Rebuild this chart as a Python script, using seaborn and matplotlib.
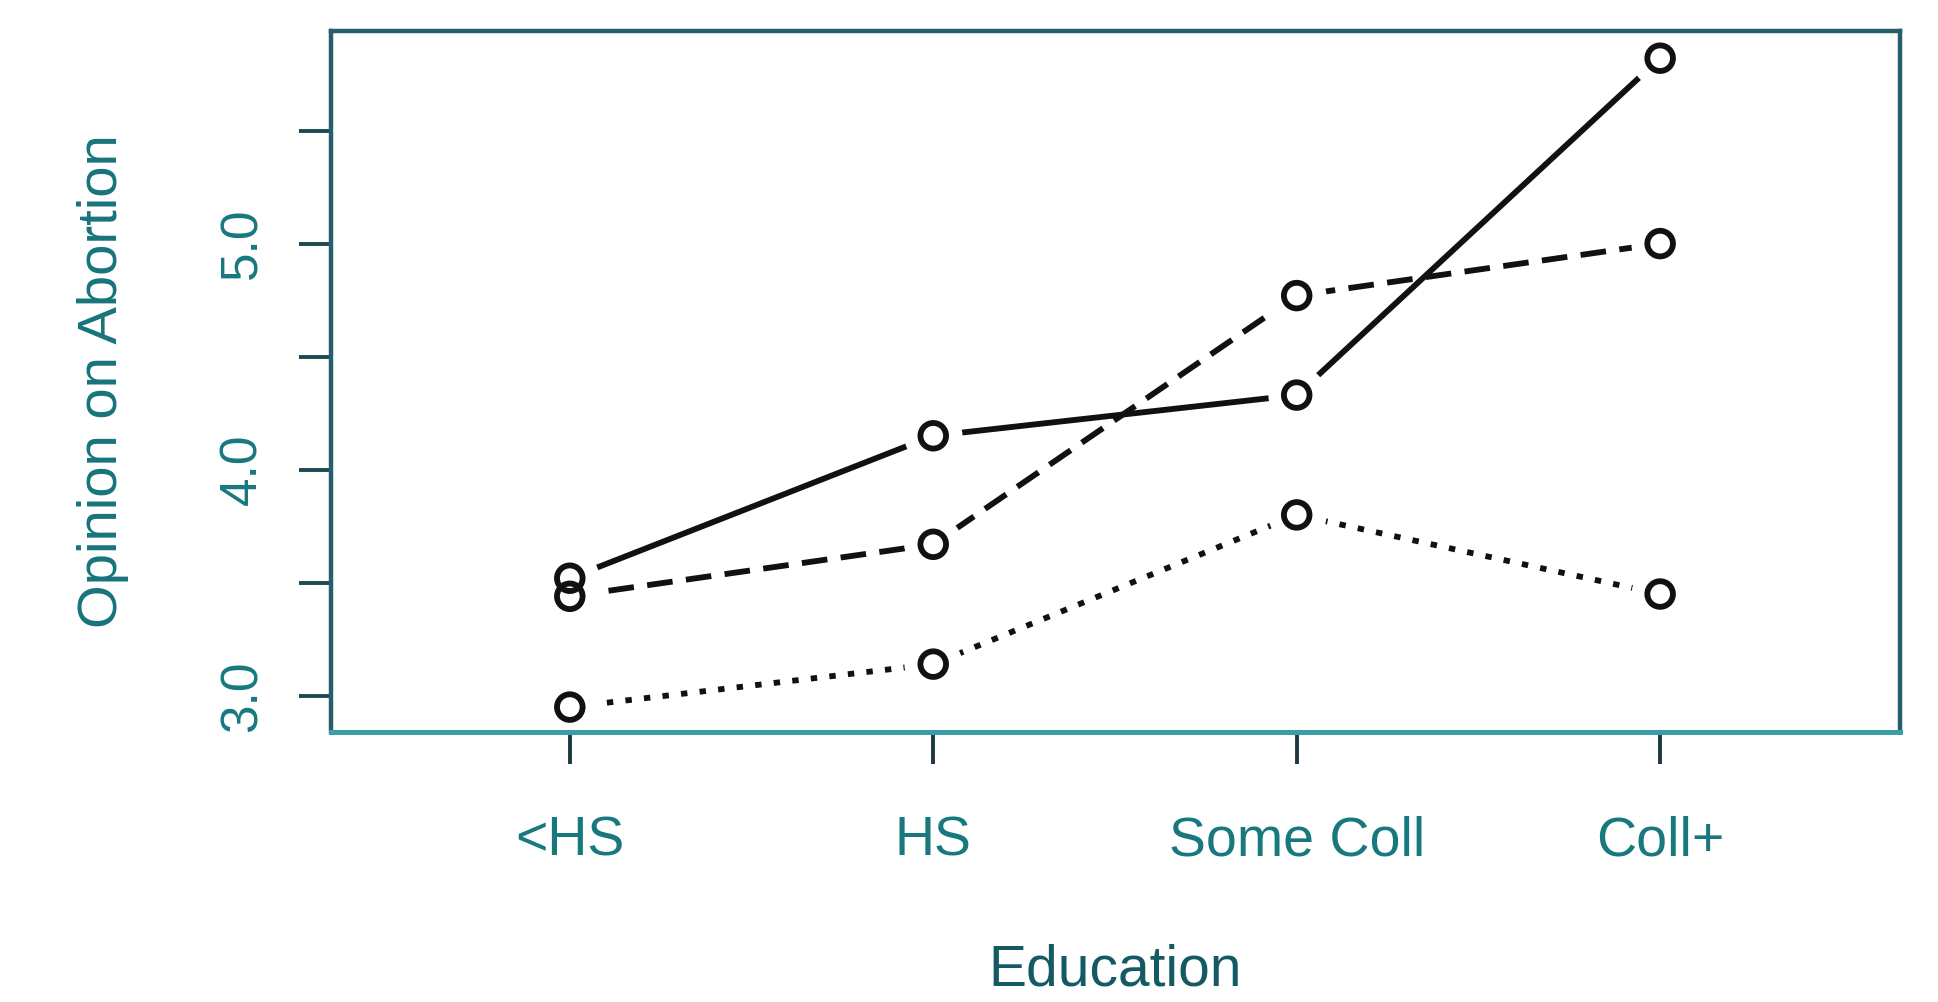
import pandas as pd
import matplotlib
matplotlib.use('Agg')
import matplotlib.pyplot as plt
import seaborn as sns

education = ['<HS', 'HS', 'Some Coll', 'Coll+']
group_solid = [3.52, 4.15, 4.33, 5.82]
group_dashed = [3.44, 3.67, 4.77, 5.00]
group_dotted = [2.95, 3.14, 3.80, 3.45]
groups = ['solid', 'dashed', 'dotted']

rows = []
for name, vals in zip(groups, [group_solid, group_dashed, group_dotted]):
    for i, v in enumerate(vals):
        rows.append({'edu': i, 'group': name, 'opinion': v})
df = pd.DataFrame(rows)

sns.set_style('white')
plt.rcParams['font.family'] = ['Liberation Sans', 'DejaVu Sans']

teal_text = '#17787e'
frame_dark = '#25606a'

fig = plt.figure(figsize=(19.38, 10.02), dpi=100)
ax = fig.add_axes([0.1708, 0.2695, 0.8096, 0.6995])

sns.lineplot(data=df, x='edu', y='opinion', style='group', units='group', estimator=None,
             dashes={'solid': '', 'dashed': (4.4, 2.3), 'dotted': (1.1, 2.1)},
             color='#111111', linewidth=4.2, legend=False, ax=ax)
# white halo so lines stop short of the circles (R type = "b")
sns.scatterplot(data=df, x='edu', y='opinion', s=1750, color='white', linewidth=0,
                legend=False, ax=ax, zorder=3)
sns.scatterplot(data=df, x='edu', y='opinion', s=340, facecolor='none', edgecolor='#111111',
                linewidth=4.2, legend=False, ax=ax, zorder=4)

ax.set_xlim(-0.657, 3.66)
ax.set_ylim(2.84, 5.94)

ax.set_xticks(range(len(education)))
ax.set_xticklabels(education)
yticks = [3.0, 3.5, 4.0, 4.5, 5.0, 5.5]
ax.set_yticks(yticks)
ax.set_yticklabels([f'{t:.1f}' if t == int(t) else '' for t in yticks],
                   rotation=90, va='center')

ax.tick_params(axis='x', bottom=True, length=23, width=2.8, color='#1c3a40', pad=37,
               labelsize=40, labelcolor=teal_text)
ax.tick_params(axis='y', left=True, length=23, width=2.8, color='#1c4a52', pad=23,
               labelsize=37, labelcolor=teal_text)

for side in ['left', 'top', 'right']:
    ax.spines[side].set_color(frame_dark)
    ax.spines[side].set_linewidth(3.2)
ax.spines['bottom'].set_color('#3a9ea8')
ax.spines['bottom'].set_linewidth(3.6)
for sp in ax.spines.values():
    sp.set_zorder(3.5)

ax.set_xlabel('Education', fontsize=41, color='#145a62', labelpad=55)
ax.set_ylabel('Opinion on Abortion', fontsize=40.5, color='#17747a', labelpad=64)

fig.savefig('out.png', dpi=100, facecolor='white')
